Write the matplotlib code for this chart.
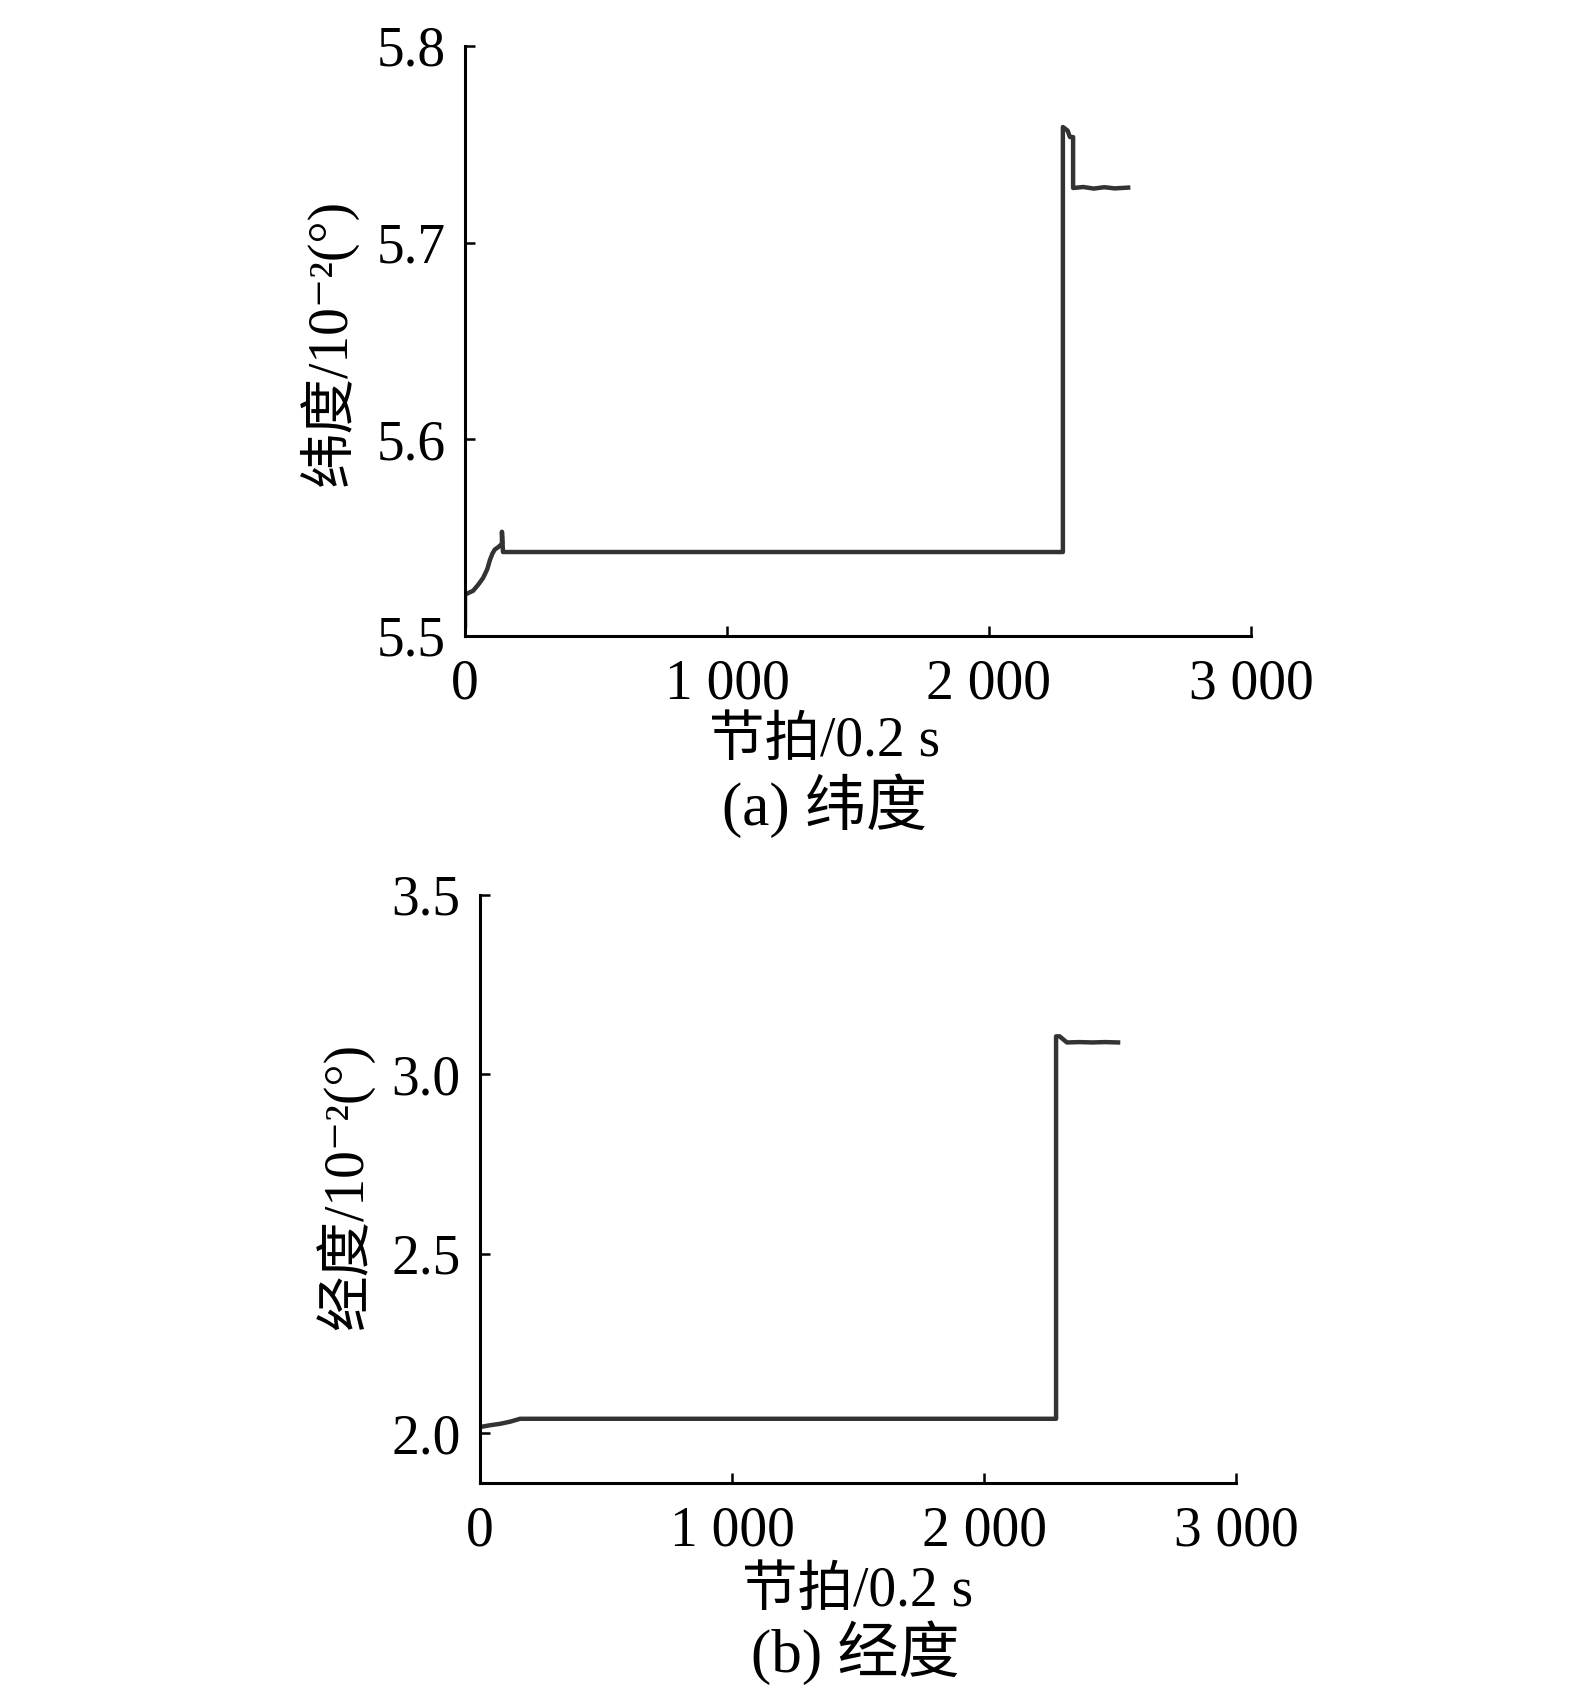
import matplotlib
matplotlib.use("Agg")
import matplotlib.pyplot as plt

plt.rcParams['font.family'] = ['Liberation Serif', 'Noto Sans CJK SC', 'DejaVu Sans']

# ---- data (a) latitude ----
lat_x = [0, 0, 15, 31, 50, 69, 85, 95, 105, 114, 125, 134, 141, 141, 145,
         2282, 2282, 2300, 2309, 2321, 2321, 2360, 2400, 2440, 2480, 2531]
lat_y = [5.505, 5.521, 5.522, 5.523, 5.526, 5.5295, 5.534, 5.5386, 5.542, 5.544,
         5.545, 5.546, 5.547, 5.553, 5.5427,
         5.5427, 5.7588, 5.757, 5.7537, 5.7537, 5.7278, 5.7283, 5.7275, 5.7282, 5.7276, 5.728]

# ---- data (b) longitude ----
lon_x = [0, 40, 80, 120, 159, 2286, 2286, 2300, 2329, 2380, 2430, 2480, 2532]
lon_y = [2.017, 2.022, 2.026, 2.032, 2.04, 2.04, 3.106, 3.106, 3.089, 3.09, 3.089, 3.09, 3.089]

x_ticks = [0, 1000, 2000, 3000]
x_ticklabels = ['0', '1 000', '2 000', '3 000']
lat_ticks = [5.5, 5.6, 5.7, 5.8]
lat_ticklabels = ['5.5', '5.6', '5.7', '5.8']
lon_ticks = [2.0, 2.5, 3.0, 3.5]
lon_ticklabels = ['2.0', '2.5', '3.0', '3.5']

W, H = 1595, 1702
fig = plt.figure(figsize=(W / 100, H / 100), dpi=100)

def fx(px):
    return px / W

def fy(py):
    return 1 - py / H

line_color = '#333333'
fs = 40

def style(ax):
    for s in ['top', 'right']:
        ax.spines[s].set_visible(False)
    for s in ['left', 'bottom']:
        ax.spines[s].set_linewidth(2.2)
        ax.spines[s].set_color('black')
    ax.tick_params(direction='in', length=7, width=1.8, labelsize=fs)
    ax.tick_params(axis='x', pad=16)
    ax.tick_params(axis='y', pad=14)

# top axes
ax1 = fig.add_axes([fx(465), fy(636), fx(1251) - fx(465), fy(46) - fy(636)])
ax1.plot(lat_x, lat_y, color=line_color, lw=3.2)
ax1.set_xlim(0, 3000)
ax1.set_ylim(5.5, 5.8)
ax1.set_xticks(x_ticks)
ax1.set_xticklabels(x_ticklabels)
ax1.set_yticks(lat_ticks)
ax1.set_yticklabels(lat_ticklabels)
style(ax1)

# bottom axes
ax2 = fig.add_axes([fx(480), fy(1483), fx(1236) - fx(480), fy(895) - fy(1483)])
ax2.plot(lon_x, lon_y, color=line_color, lw=3.2)
ax2.set_xlim(0, 3000)
ax2.set_ylim(1.861, 3.5)
ax2.set_xticks(x_ticks)
ax2.set_xticklabels(x_ticklabels)
ax2.set_yticks(lon_ticks)
ax2.set_yticklabels(lon_ticklabels)
style(ax2)

# labels
fig.text(fx(825), fy(742), '节拍/0.2 s', fontsize=fs, ha='center', va='center')
fig.text(fx(825), fy(806), '(a) 纬度', fontsize=44, ha='center', va='center')
fig.text(fx(328), fy(342), '纬度/10⁻²(°)', fontsize=fs, ha='center', va='center', rotation=90)

fig.text(fx(858), fy(1592), '节拍/0.2 s', fontsize=fs, ha='center', va='center')
fig.text(fx(855), fy(1653), '(b) 经度', fontsize=44, ha='center', va='center')
fig.text(fx(345), fy(1186), '经度/10⁻²(°)', fontsize=fs, ha='center', va='center', rotation=90)

fig.savefig('out.png', dpi=100, facecolor='white')
